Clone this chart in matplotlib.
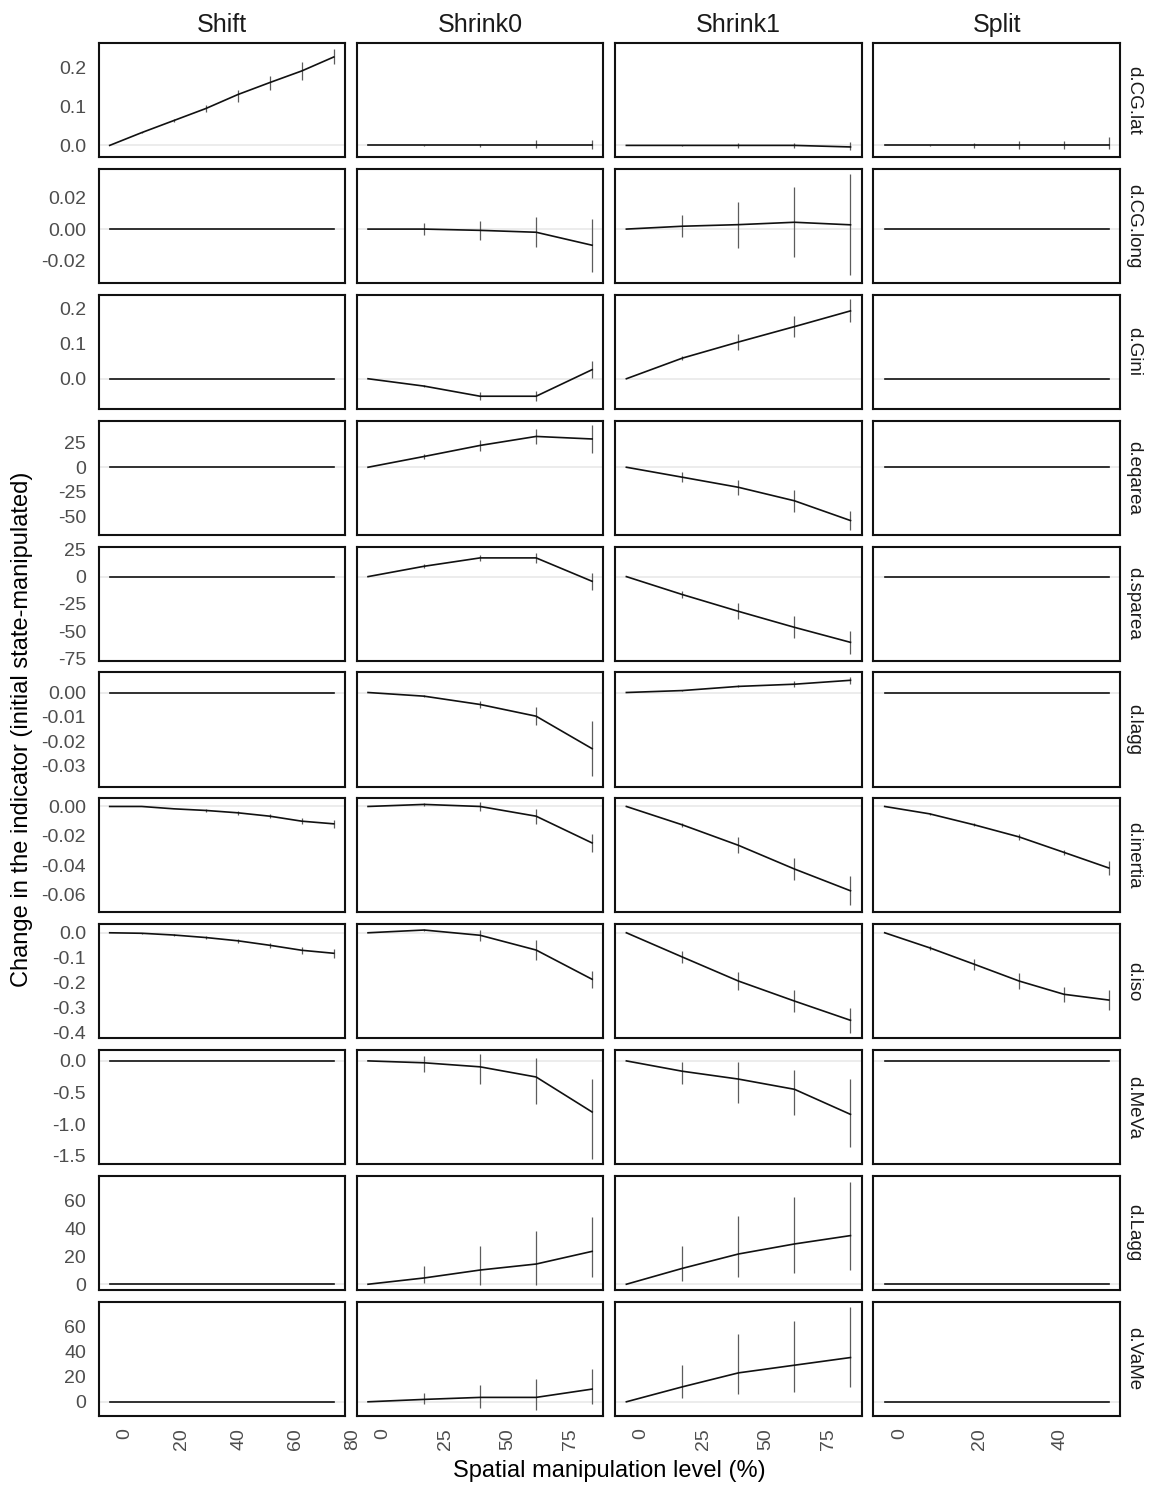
import matplotlib
matplotlib.use("Agg")
import matplotlib.pyplot as plt
from matplotlib.ticker import FormatStrFormatter
from matplotlib.transforms import ScaledTranslation

plt.rcParams["font.family"] = ["Liberation Sans", "DejaVu Sans"]
plt.rcParams["axes.unicode_minus"] = False

methods = ["Shift", "Shrink0", "Shrink1", "Split"]
indicators = ["d.CG.lat", "d.CG.long", "d.Gini", "d.eqarea", "d.sparea", "d.lagg",
              "d.inertia", "d.iso", "d.MeVa", "d.Lagg", "d.VaMe"]

# manipulation levels (%)
x_shift = [0, 11.2, 22.4, 33.6, 44.8, 56.0, 67.2, 78.4]
x_shrink0 = [0, 22.4, 44.8, 67.2, 89.6]
x_shrink1 = [0, 22.4, 44.8, 67.2, 89.6]
x_split = [0, 11.2, 22.4, 33.6, 44.8, 56.0]

# mean change per indicator
shift_y = {
    "d.CG.lat": [0, 0.033, 0.064, 0.095, 0.131, 0.162, 0.192, 0.228],
    "d.CG.long": [0, 0, 0, 0, 0, 0, 0, 0],
    "d.Gini": [0, 0, 0, 0, 0, 0, 0, 0],
    "d.eqarea": [0, 0, 0, 0, 0, 0, 0, 0],
    "d.sparea": [0, 0, 0, 0, 0, 0, 0, 0],
    "d.lagg": [0, 0, 0, 0, 0, 0, 0, 0],
    "d.inertia": [0, 0, -0.0016, -0.0027, -0.0043, -0.0066, -0.010, -0.0118],
    "d.iso": [0, -0.002, -0.009, -0.019, -0.032, -0.050, -0.070, -0.082],
    "d.MeVa": [0, 0, 0, 0, 0, 0, 0, 0],
    "d.Lagg": [0, 0, 0, 0, 0, 0, 0, 0],
    "d.VaMe": [0, 0, 0, 0, 0, 0, 0, 0],
}
shrink0_y = {
    "d.CG.lat": [0, 0, 0, 0, 0],
    "d.CG.long": [0, 0, -0.0008, -0.002, -0.0102],
    "d.Gini": [0, -0.021, -0.05, -0.05, 0.026],
    "d.eqarea": [0, 11, 22.3, 31.5, 28.9],
    "d.sparea": [0, 9.5, 17.2, 17.2, -4.3],
    "d.lagg": [0, -0.0015, -0.0049, -0.0097, -0.023],
    "d.inertia": [0, 0.0014, 0, -0.0066, -0.0248],
    "d.iso": [0, 0.011, -0.01, -0.069, -0.186],
    "d.MeVa": [0, -0.03, -0.094, -0.255, -0.81],
    "d.Lagg": [0, 4.5, 10.2, 14.5, 23.6],
    "d.VaMe": [0, 1.9, 3.5, 3.5, 10.1],
}
shrink1_y = {
    "d.CG.lat": [0, 0, 0, 0, -0.004],
    "d.CG.long": [0, 0.0018, 0.0028, 0.0043, 0.0027],
    "d.Gini": [0, 0.059, 0.105, 0.149, 0.194],
    "d.eqarea": [0, -10.2, -20.5, -34.3, -54.5],
    "d.sparea": [0, -16.5, -31.9, -46.6, -60.4],
    "d.lagg": [0, 0.0008, 0.0025, 0.0034, 0.005],
    "d.inertia": [0, -0.0125, -0.0264, -0.0425, -0.0573],
    "d.iso": [0, -0.097, -0.193, -0.273, -0.35],
    "d.MeVa": [0, -0.164, -0.288, -0.45, -0.847],
    "d.Lagg": [0, 11.4, 21.7, 28.9, 34.9],
    "d.VaMe": [0, 11.9, 23, 29.1, 35.2],
}
split_y = {
    "d.CG.lat": [0, 0, 0, 0, 0, 0],
    "d.CG.long": [0, 0, 0, 0, 0, 0],
    "d.Gini": [0, 0, 0, 0, 0, 0],
    "d.eqarea": [0, 0, 0, 0, 0, 0],
    "d.sparea": [0, 0, 0, 0, 0, 0],
    "d.lagg": [0, 0, 0, 0, 0, 0],
    "d.inertia": [0, -0.005, -0.0125, -0.0207, -0.0312, -0.0418],
    "d.iso": [0, -0.06, -0.126, -0.193, -0.246, -0.269],
    "d.MeVa": [0, 0, 0, 0, 0, 0],
    "d.Lagg": [0, 0, 0, 0, 0, 0],
    "d.VaMe": [0, 0, 0, 0, 0, 0],
}

# error bar ends (only panels that show bars)
shift_lo = {
    "d.CG.lat": [0, 0.032, 0.061, 0.086, 0.112, 0.142, 0.168, 0.211],
    "d.inertia": [0, 0, -0.0018, -0.0035, -0.0055, -0.0078, -0.012, -0.0143],
    "d.iso": [0, -0.003, -0.014, -0.025, -0.040, -0.060, -0.085, -0.100],
}
shift_hi = {
    "d.CG.lat": [0, 0.034, 0.067, 0.103, 0.144, 0.178, 0.215, 0.249],
    "d.inertia": [0, 0, -0.0014, -0.0019, -0.0031, -0.0054, -0.008, -0.0093],
    "d.iso": [0, -0.001, -0.004, -0.013, -0.024, -0.040, -0.055, -0.064],
}
shrink0_lo = {
    "d.CG.lat": [0, -0.002, -0.003, -0.007, -0.009],
    "d.CG.long": [0, -0.0039, -0.0066, -0.0115, -0.027],
    "d.Gini": [0, -0.025, -0.062, -0.065, 0.001],
    "d.eqarea": [0, 8, 16.3, 23.5, 14.4],
    "d.sparea": [0, 7.5, 14.2, 12.6, -12],
    "d.lagg": [0, -0.002, -0.0063, -0.0133, -0.0343],
    "d.inertia": [0, 0.0006, -0.003, -0.0116, -0.0308],
    "d.iso": [0, 0.006, -0.033, -0.11, -0.219],
    "d.MeVa": [0, -0.174, -0.363, -0.685, -1.56],
    "d.Lagg": [0, 0.6, -0.4, -0.4, 4.9],
    "d.VaMe": [0, -2, -5.3, -6.6, -2],
}
shrink0_hi = {
    "d.CG.lat": [0, 0.002, 0.003, 0.013, 0.013],
    "d.CG.long": [0, 0.0039, 0.005, 0.0075, 0.0066],
    "d.Gini": [0, -0.017, -0.038, -0.035, 0.051],
    "d.eqarea": [0, 14, 28.3, 39.5, 43.4],
    "d.sparea": [0, 11.5, 20.2, 21.8, 3.4],
    "d.lagg": [0, -0.001, -0.0035, -0.0061, -0.0117],
    "d.inertia": [0, 0.0022, 0.003, -0.0016, -0.0188],
    "d.iso": [0, 0.016, 0.013, -0.028, -0.153],
    "d.MeVa": [0, 0.077, 0.105, 0.04, -0.282],
    "d.Lagg": [0, 13.3, 27.7, 38, 48],
    "d.VaMe": [0, 6.7, 13.2, 17.8, 25.7],
}
shrink1_lo = {
    "d.CG.lat": [0, -0.002, -0.006, -0.006, -0.013],
    "d.CG.long": [0, -0.0052, -0.0118, -0.0177, -0.0293],
    "d.Gini": [0, 0.054, 0.083, 0.119, 0.161],
    "d.eqarea": [0, -15.2, -28.2, -45.3, -63.9],
    "d.sparea": [0, -19.5, -39.1, -56.6, -70.7],
    "d.lagg": [0, 0.0006, 0.0021, 0.0022, 0.0035],
    "d.inertia": [0, -0.0139, -0.0319, -0.0499, -0.0673],
    "d.iso": [0, -0.122, -0.229, -0.318, -0.399],
    "d.MeVa": [0, -0.37, -0.66, -0.85, -1.37],
    "d.Lagg": [0, 2, 4.9, 7.8, 10.4],
    "d.VaMe": [0, 2.7, 6.1, 7.9, 11.9],
}
shrink1_hi = {
    "d.CG.lat": [0, 0.002, 0.006, 0.006, 0.010],
    "d.CG.long": [0, 0.0088, 0.0174, 0.0263, 0.0347],
    "d.Gini": [0, 0.064, 0.127, 0.179, 0.227],
    "d.eqarea": [0, -5.2, -12.8, -23.3, -45.1],
    "d.sparea": [0, -13.5, -24.7, -36.6, -50.1],
    "d.lagg": [0, 0.001, 0.0029, 0.0046, 0.0065],
    "d.inertia": [0, -0.0111, -0.0209, -0.0351, -0.0473],
    "d.iso": [0, -0.072, -0.157, -0.228, -0.301],
    "d.MeVa": [0, -0.02, -0.02, -0.15, -0.28],
    "d.Lagg": [0, 27.7, 49.3, 62.4, 73.7],
    "d.VaMe": [0, 29.1, 54.3, 64, 75.4],
}
split_lo = {
    "d.CG.lat": [0, -0.002, -0.006, -0.010, -0.010, -0.009],
    "d.inertia": [0, -0.0055, -0.0135, -0.0225, -0.033, -0.0468],
    "d.iso": [0, -0.068, -0.149, -0.225, -0.277, -0.308],
}
split_hi = {
    "d.CG.lat": [0, 0.002, 0.006, 0.012, 0.012, 0.022],
    "d.inertia": [0, -0.0045, -0.0115, -0.0189, -0.0294, -0.0368],
    "d.iso": [0, -0.052, -0.103, -0.161, -0.215, -0.230],
}

xs = [x_shift, x_shrink0, x_shrink1, x_split]
ys = [shift_y, shrink0_y, shrink1_y, split_y]
los = [shift_lo, shrink0_lo, shrink1_lo, split_lo]
his = [shift_hi, shrink0_hi, shrink1_hi, split_hi]

xticks = [[0, 20, 40, 60, 80], [0, 25, 50, 75], [0, 25, 50, 75], [0, 20, 40]]
yticks = {
    "d.CG.lat": [0, 0.1, 0.2], "d.CG.long": [-0.02, 0, 0.02], "d.Gini": [0, 0.1, 0.2],
    "d.eqarea": [-50, -25, 0, 25], "d.sparea": [-75, -50, -25, 0, 25],
    "d.lagg": [-0.03, -0.02, -0.01, 0], "d.inertia": [-0.06, -0.04, -0.02, 0],
    "d.iso": [-0.4, -0.3, -0.2, -0.1, 0], "d.MeVa": [-1.5, -1.0, -0.5, 0],
    "d.Lagg": [0, 20, 40, 60], "d.VaMe": [0, 20, 40, 60],
}
yfmt = {
    "d.CG.lat": "%.1f", "d.CG.long": "%.2f", "d.Gini": "%.1f", "d.eqarea": "%d",
    "d.sparea": "%d", "d.lagg": "%.2f", "d.inertia": "%.2f", "d.iso": "%.1f",
    "d.MeVa": "%.1f", "d.Lagg": "%d", "d.VaMe": "%d",
}
ylims = {
    "d.CG.lat": (-0.030, 0.264), "d.CG.long": (-0.034, 0.038), "d.Gini": (-0.086, 0.240),
    "d.eqarea": (-69, 47.6), "d.sparea": (-77.2, 27.6), "d.lagg": (-0.0385, 0.0082),
    "d.inertia": (-0.072, 0.0055), "d.iso": (-0.422, 0.034), "d.MeVa": (-1.637, 0.17),
    "d.Lagg": (-4.2, 77.6), "d.VaMe": (-11.3, 79.4),
}

fig = plt.figure(figsize=(11.5, 14.88), dpi=100)
axes = fig.subplots(len(indicators), len(methods), sharex="col", sharey="row",
                    gridspec_kw=dict(left=98.5 / 1150, right=1120 / 1150,
                                     top=1 - 43 / 1488, bottom=1 - 1416 / 1488,
                                     wspace=0.048, hspace=0.104))

for i, ind in enumerate(indicators):
    for j, m in enumerate(methods):
        ax = axes[i, j]
        x = xs[j]
        ax.axhline(0, color="#ebebeb", lw=1.3, zorder=0)
        if ind in los[j]:
            ax.vlines(x, los[j][ind], his[j][ind], color="#5c5c5c", lw=0.9, zorder=2)
        ax.plot(x, ys[j][ind], color="#111111", lw=1.2, zorder=3)
        for s in ax.spines.values():
            s.set_linewidth(1.5)
            s.set_color("#111111")
        ax.tick_params(length=0, labelsize=14, labelcolor="#4d4d4d", pad=9)
        if i == 0:
            ax.set_title(m, fontsize=18, pad=8, color="#1a1a1a")
        if j == len(methods) - 1:
            ax.annotate(ind, xy=(1, 0.5), xycoords="axes fraction", xytext=(4, 0),
                        textcoords="offset points", rotation=270, ha="left",
                        va="center", fontsize=13.5, color="#1a1a1a")
    axes[i, 0].set_ylim(*ylims[ind])
    axes[i, 0].set_yticks(yticks[ind])
    axes[i, 0].yaxis.set_major_formatter(FormatStrFormatter(yfmt[ind]))

# rotated x labels sit just right of their tick, as in the original
shift_right = ScaledTranslation(4.5 / 72, 0, fig.dpi_scale_trans)
for j in range(len(methods)):
    ax = axes[-1, j]
    x = xs[j]
    span = max(x) - min(x)
    ax.set_xlim(min(x) - 0.05 * span, max(x) + 0.05 * span)
    ax.set_xticks(xticks[j])
    ax.tick_params(axis="x", labelrotation=90, pad=8.5)
    for tick in ax.xaxis.get_major_ticks():
        lbl = tick.label1
        lbl.set_ha("left")
        lbl.set_va("top")
        lbl.set_transform(lbl.get_transform() + shift_right)

fig.text(22 / 1150, 1 - 729.5 / 1488, "Change in the indicator (initial state-manipulated)",
         rotation=90, ha="center", va="center", fontsize=17)
fig.text(609 / 1150, 1 - 1471 / 1488, "Spatial manipulation level (%)",
         ha="center", va="center", fontsize=17)

fig.savefig("out.png", dpi=100)
